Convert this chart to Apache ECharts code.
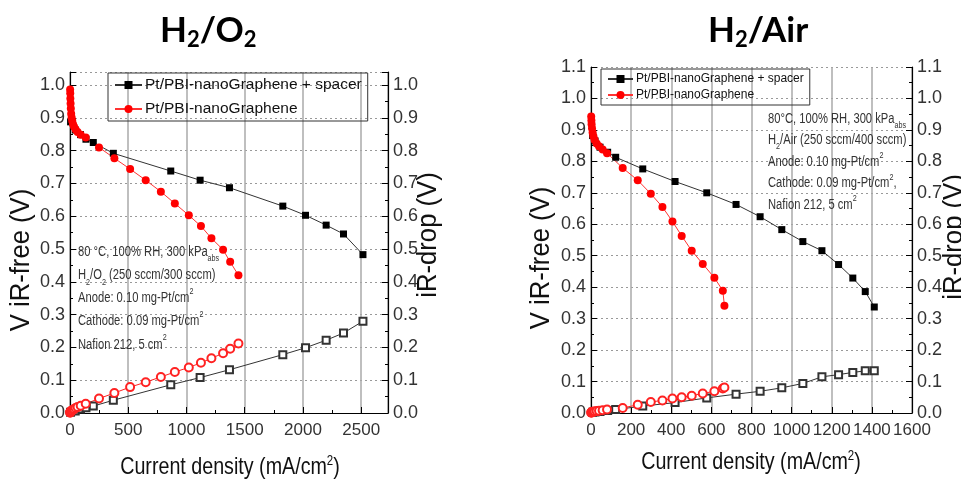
<!DOCTYPE html>
<html>
<head>
<meta charset="utf-8">
<script src="https://cdn.jsdelivr.net/npm/echarts@6/dist/echarts.min.js"></script>
<style>html,body{margin:0;padding:0;background:#fff;}#c{width:961px;height:481px;}</style>
</head>
<body>
<div id="c"></div>
<script>
// ---- H2/O2 data ----
const o2SpacerX  = [5, 45, 90, 137, 200, 372, 865, 1117, 1369, 1827, 2022, 2199, 2348, 2515];
const o2SpacerV  = [0.888, 0.863, 0.849, 0.835, 0.825, 0.792, 0.738, 0.710, 0.687, 0.631, 0.603, 0.573, 0.546, 0.483];
const o2SpacerIR = [0.002, 0.006, 0.012, 0.016, 0.021, 0.039, 0.086, 0.108, 0.132, 0.178, 0.199, 0.222, 0.244, 0.280];
const o2NanoX  = [1, 2, 3, 5, 7, 10, 14, 19, 26, 35, 48, 65, 92, 135, 249, 381, 516, 650, 780, 900, 1020, 1124, 1214, 1314, 1375, 1446];
const o2NanoV  = [0.987, 0.975, 0.959, 0.944, 0.929, 0.913, 0.901, 0.891, 0.881, 0.873, 0.865, 0.857, 0.849, 0.840, 0.810, 0.777, 0.744, 0.710, 0.675, 0.639, 0.603, 0.570, 0.533, 0.498, 0.461, 0.420];
const o2NanoIR = [0.001, 0.002, 0.003, 0.004, 0.005, 0.006, 0.007, 0.008, 0.010, 0.012, 0.015, 0.018, 0.022, 0.028, 0.044, 0.061, 0.079, 0.094, 0.110, 0.125, 0.139, 0.153, 0.167, 0.182, 0.196, 0.212];
// ---- H2/Air data ----
const airSpacerX  = [8, 20, 45, 83, 123, 258, 419, 577, 723, 843, 951, 1056, 1151, 1234, 1305, 1367, 1412];
const airSpacerV  = [0.882, 0.865, 0.845, 0.829, 0.813, 0.776, 0.736, 0.700, 0.663, 0.624, 0.583, 0.545, 0.516, 0.472, 0.429, 0.386, 0.337];
const airSpacerIR = [0.002, 0.003, 0.005, 0.008, 0.011, 0.022, 0.033, 0.048, 0.060, 0.069, 0.080, 0.094, 0.115, 0.122, 0.129, 0.134, 0.134];
const airNanoX  = [1, 2, 3, 5, 8, 12, 18, 28, 40, 58, 80, 158, 233, 298, 356, 406, 452, 502, 557, 615, 657, 665];
const airNanoV  = [0.943, 0.930, 0.918, 0.905, 0.892, 0.880, 0.868, 0.857, 0.848, 0.838, 0.826, 0.779, 0.740, 0.697, 0.655, 0.609, 0.563, 0.516, 0.474, 0.430, 0.389, 0.341];
const airNanoIR = [0.001, 0.002, 0.002, 0.003, 0.004, 0.004, 0.005, 0.006, 0.007, 0.009, 0.011, 0.016, 0.026, 0.035, 0.040, 0.046, 0.050, 0.055, 0.062, 0.069, 0.078, 0.081];
// ---- labels ----
const seriesNames = ['Pt/PBI-nanoGraphene + spacer', 'Pt/PBI-nanoGraphene'];
const titles = ['{a|H}{s|2}{a|/O}{s|2}', '{a|H}{s|2}{a|/Air}'];
const yTitleLeft = 'V iR-free (V)';
const yTitleRight = 'iR-drop (V)';
const xTitle = '{t|Current density (mA/cm}{p|2}{t|)}';
const noteO2 = [
  '80 °C, 100% RH, 300 kPa{sb|abs}',
  'H{sb|2}/O{sb|2} (250 sccm/300 sccm)',
  'Anode: 0.10 mg-Pt/cm{sp|2}',
  'Cathode: 0.09 mg-Pt/cm{sp|2}',
  'Nafion 212, 5 cm{sp|2}'
];
const noteAir = [
  '80°C, 100% RH, 300 kPa{sb|abs}',
  'H{sb|2}/Air (250 sccm/400 sccm)',
  'Anode: 0.10 mg-Pt/cm{sp|2}',
  'Cathode: 0.09 mg-Pt/cm{sp|2},',
  'Nafion 212, 5 cm{sp|2}'
];

const zip = (xs, ys) => xs.map((x, i) => [x, ys[i]]);
const NF = "'Liberation Sans',Arial,sans-serif";

function yAxisCfg(grid, pos, max, grid0) {
  return {
    type: 'value', gridIndex: grid, position: pos, min: 0, max: max, interval: 0.1,
    axisLine: { show: true, lineStyle: { color: '#000', width: 1.2 } },
    axisTick: { show: true, inside: true, length: 6, lineStyle: { color: '#000' } },
    minorTick: { show: true, splitNumber: 2, length: 3, lineStyle: { color: '#000' } },
    axisLabel: {
      margin: 5, color: '#333', fontFamily: NF, fontSize: 18,
      formatter: v => Math.abs(v * 10 - Math.round(v * 10)) < 1e-6 ? v.toFixed(1) : ''
    },
    splitLine: { show: grid0, lineStyle: { type: [2, 3], color: '#999', width: 1 } }
  };
}
function xAxisCfg(grid, max, interval) {
  return {
    type: 'value', gridIndex: grid, min: 0, max: max, interval: interval,
    axisLine: { show: true, onZero: false, lineStyle: { color: '#000', width: 1.2 } },
    axisTick: { show: true, inside: true, length: 6, lineStyle: { color: '#000' } },
    minorTick: { show: true, splitNumber: 2, length: 3, lineStyle: { color: '#000' } },
    axisLabel: {
      margin: 9, color: '#333', fontFamily: NF, fontSize: 17, showMaxLabel: true, hideOverlap: false,
      formatter: v => (Math.abs(v % interval) < 1e-6 ? String(v) : '')
    },
    splitLine: { show: true, lineStyle: { color: '#aaa', width: 1.5 } }
  };
}
function vSeries(name, xi, yi, xs, ys, sym, size, color, lineColor) {
  return {
    name: name, type: 'line', xAxisIndex: xi, yAxisIndex: yi, data: zip(xs, ys),
    symbol: sym, symbolSize: size, showSymbol: true,
    itemStyle: { color: color }, lineStyle: { color: lineColor, width: 1 }, z: 5
  };
}
function irSeries(name, xi, yi, xs, ys, sym, size, color) {
  return {
    name: name, type: 'line', xAxisIndex: xi, yAxisIndex: yi, data: zip(xs, ys),
    symbol: sym, symbolSize: size, showSymbol: true,
    itemStyle: { color: color, borderWidth: 1 }, lineStyle: { color: color, width: 1 }, z: 4
  };
}
const richNote = {
  sb: { fontSize: 9, lineHeight: 10, verticalAlign: 'bottom', fontFamily: NF, fill: '#333' },
  sp: { fontSize: 9, lineHeight: 10, verticalAlign: 'top', fontFamily: NF, fill: '#333' }
};
function noteText(lines, x, y, lh) {
  return {
    type: 'text', x: x, y: y, z: 10, scaleX: 0.8,
    style: {
      text: lines.join('\n'), fontFamily: NF, fontSize: 14, lineHeight: lh, fill: '#333',
      rich: richNote
    }
  };
}
function rotText(text, x, y) {
  return {
    type: 'text', x: x, y: y, rotation: Math.PI / 2, scaleX: 0.95, z: 10,
    style: { text: text, fontFamily: NF, fontSize: 27, fill: '#111', textAlign: 'center', textVerticalAlign: 'middle', align: 'center', verticalAlign: 'middle' }
  };
}
function xText(x, y) {
  return {
    type: 'text', x: x, y: y, z: 10, scaleX: 0.82,
    style: {
      text: xTitle, textAlign: 'center', textVerticalAlign: 'middle', align: 'center', verticalAlign: 'middle',
      rich: {
        t: { fontFamily: NF, fontSize: 24, lineHeight: 26, fill: '#111' },
        p: { fontFamily: NF, fontSize: 14, lineHeight: 12, verticalAlign: 'top', fill: '#111' }
      }
    }
  };
}
const titleRich = {
  a: { fontFamily: 'Lato, Open Sans, sans-serif', fontWeight: 'bold', fontSize: 35, lineHeight: 40, color: '#000' },
  s: { fontFamily: 'Lato, Open Sans, sans-serif', fontWeight: 'bold', fontSize: 22, lineHeight: 14, verticalAlign: 'bottom', color: '#000' }
};
function legendCfg(left, top, fs, iw, gap, pad) {
  return {
    data: seriesNames, orient: 'vertical', left: left, top: top,
    borderColor: '#333', borderWidth: 1, padding: pad, itemGap: gap,
    itemWidth: iw, itemHeight: 10, selectedMode: false,
    textStyle: { fontFamily: NF, fontSize: fs, color: '#111', padding: [0, 0, 0, -2] }
  };
}

const chart = echarts.init(document.getElementById('c'), null, { renderer: 'canvas' });
chart.setOption({
  animation: false,
  backgroundColor: '#fff',
  title: [
    { text: titles[0], left: 155, top: 6, textStyle: { rich: titleRich } },
    { text: titles[1], left: 703, top: 6, textStyle: { rich: titleRich } }
  ],
  legend: [legendCfg(108, 73, 15.5, 27, 8, [4, 6, 4, 6]), legendCfg(601, 69, 12, 25, 4, [4, 6, 4, 6])],
  grid: [
    { left: 70, top: 72, width: 318, height: 341 },
    { left: 591, top: 67, width: 321, height: 346 }
  ],
  xAxis: [xAxisCfg(0, 2730, 500), xAxisCfg(1, 1600, 200)],
  yAxis: [
    yAxisCfg(0, 'left', 1.04, true), yAxisCfg(0, 'right', 1.04, false),
    yAxisCfg(1, 'left', 1.1, true), yAxisCfg(1, 'right', 1.1, false)
  ],
  series: [
    irSeries('iR spacer O2', 0, 1, o2SpacerX, o2SpacerIR, 'emptyRect', 7, '#333'),
    irSeries('iR nano O2', 0, 1, o2NanoX, o2NanoIR, 'emptyCircle', 8, '#f22'),
    vSeries(seriesNames[0], 0, 0, o2SpacerX, o2SpacerV, 'rect', 7, '#000', '#333'),
    vSeries(seriesNames[1], 0, 0, o2NanoX, o2NanoV, 'circle', 8, '#f00', '#f33'),
    irSeries('iR spacer Air', 1, 3, airSpacerX, airSpacerIR, 'emptyRect', 7, '#333'),
    irSeries('iR nano Air', 1, 3, airNanoX, airNanoIR, 'emptyCircle', 8, '#f22'),
    vSeries(seriesNames[0], 1, 2, airSpacerX, airSpacerV, 'rect', 7, '#000', '#333'),
    vSeries(seriesNames[1], 1, 2, airNanoX, airNanoV, 'circle', 8, '#f00', '#f33')
  ],
  graphic: [
    noteText(noteO2, 78, 240, 23.3),
    noteText(noteAir, 768, 108, 21.6),
    rotText(yTitleLeft, 22, 260),
    rotText(yTitleRight, 429, 235),
    rotText(yTitleLeft, 542, 258),
    rotText(yTitleRight, 955, 237),
    xText(230, 467),
    xText(751, 462)
  ]
});
</script>
</body>
</html>
